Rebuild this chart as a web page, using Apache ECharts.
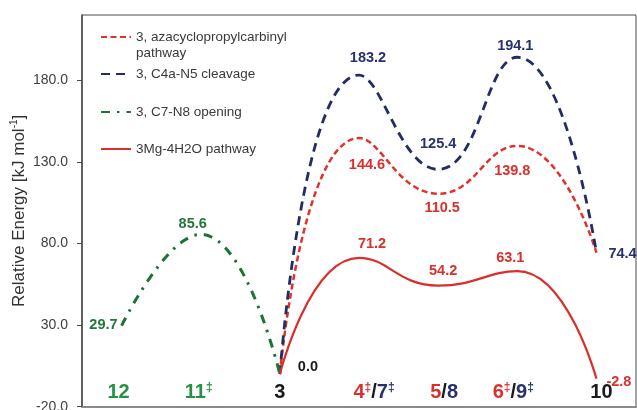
<!DOCTYPE html>
<html><head><meta charset="utf-8">
<script src="https://cdn.jsdelivr.net/npm/echarts@6/dist/echarts.min.js"></script>
<style>html,body{margin:0;padding:0;background:#fff}#c{width:637px;height:410px}</style>
</head><body><div id="c"></div>
<script>
// ---- data ----
const categories = ['12', '11‡', '3', '4‡/7‡', '5/8', '6‡/9‡', '10'];
const azacycloValues = [null, null, 0.0, 144.6, 110.5, 139.8, 74.4];
const c4aN5Values   = [null, null, 0.0, 183.2, 125.4, 194.1, 74.4];
const c7N8Values    = [29.7, 85.6, 0.0, null, null, null, null];
const mg4h2oValues  = [null, null, 0.0, 71.2, 54.2, 63.1, -2.8];
const seriesNames = ['3, azacyclopropylcarbinyl pathway', '3, C4a-N5 cleavage', '3, C7-N8 opening', '3Mg-4H2O pathway'];
const yTickLabels = [-20, 30, 80, 130, 180];

// ---- styling ----
const RED = '#d92e2a', NAVY = '#242d63', GREEN = '#1f7136', BLACK = '#1a1a1a';
const LBL_RED = '#d8302c', LBL_NAVY = '#28316b', LBL_GREEN = '#24753b';
const FONT = 'Arial, "Liberation Sans", sans-serif';

// [position, dx, dy, color?]
const labelLayout = {
  aza: {3: ['bottom', 8, 14], 4: ['bottom', 4, 2], 5: ['bottom', -5, 13]},
  c4a: {3: ['top', 9, -5], 4: ['top', 0, -13], 5: ['top', -2, 1], 6: ['right', 7, 1]},
  c7:  {0: ['left', 1, -1], 1: ['top', -8, 2]},
  mg:  {2: ['right', 13, -7, BLACK], 3: ['top', 13, -1], 4: ['top', 5, -2], 5: ['top', -7, -1], 6: ['right', 5, 3]}
};

function items(vals, layout, color) {
  return vals.map((v, i) => {
    if (v === null) return '-';
    const l = layout[i];
    if (!l) return {value: v, label: {show: false}};
    return {value: v, label: {show: true, position: l[0], offset: [l[1], l[2]], color: l[3] || color,
      fontSize: 14.5, fontWeight: 'bold', fontFamily: FONT,
      formatter: p => Number(p.value).toFixed(1)}};
  });
}

// category label rich strings
const catRich = {
  '12': '{g|12}{sp6|}',
  '11‡': '{g|11}{gs|‡}{sp4|}',
  '3': '{k|3}',
  '4‡/7‡': '{sp30|}{r|4}{rs|‡}{k|/}{n|7}{ns|‡}',
  '5/8': '{sp12|}{r|5}{k|/}{n|8}',
  '6‡/9‡': '{r|6}{rs|‡}{k|/}{n|9}{ns|‡}{sp8|}',
  '10': '{sp10|}{k|10}'
};
const mainTok = c => ({color: c, fontSize: 20, fontWeight: 'bold', fontFamily: FONT, lineHeight: 22});
const supTok = c => ({color: c, fontSize: 12, fontWeight: 'bold', fontFamily: FONT, lineHeight: 12, verticalAlign: 'top'});

const chart = echarts.init(document.getElementById('c'), null, {renderer: 'canvas'});

const legendTops = [13, 66, 104, 141];
const option = {
  animation: false,
  backgroundColor: '#fff',
  grid: {left: 82, right: 1, top: 15, bottom: 3.3, show: true, borderColor: '#4a4a4a', borderWidth: 1,
    outerBoundsMode: 'none', containLabel: false},
  legend: seriesNames.map((n, i) => ({
    data: [n], left: 100, top: legendTops[i], orient: 'vertical', padding: 0,
    itemWidth: 30, itemHeight: 14, selectedMode: false,
    itemStyle: {opacity: 0},
    formatter: i === 0 ? '\n3, azacyclopropylcarbinyl\npathway' : undefined,
    textStyle: {color: '#3a3a3a', fontSize: 13.5, fontFamily: FONT, lineHeight: 16}
  })),
  xAxis: {
    type: 'category', data: categories, boundaryGap: true,
    axisTick: {show: false},
    axisLine: {onZero: false, lineStyle: {color: '#8a8a8a', width: 2}},
    axisLabel: {
      inside: true, margin: 3, interval: 0,
      formatter: v => catRich[v],
      rich: {
        g: mainTok('#259244'), gs: supTok('#259244'),
        k: mainTok(BLACK),
        r: mainTok(LBL_RED), rs: supTok(LBL_RED),
        n: mainTok(LBL_NAVY), ns: supTok(LBL_NAVY),
        sp4: {width: 4}, sp6: {width: 6}, sp8: {width: 8}, sp10: {width: 10}, sp12: {width: 12}, sp30: {width: 30}
      }
    },
    splitLine: {show: false}
  },
  yAxis: {
    type: 'value', min: yTickLabels[0], max: 220, interval: 50,
    name: '{a|Relative Energy [kJ mol}{s|-1}{a|]}',
    nameLocation: 'middle', nameGap: 53, nameRotate: 90, nameMoveOverlap: false,
    nameTextStyle: {rich: {
      a: {fontSize: 17, fontFamily: FONT, color: '#333', lineHeight: 20},
      s: {fontSize: 10, fontFamily: FONT, color: '#333', lineHeight: 10, verticalAlign: 'top'}
    }},
    axisLine: {show: true, lineStyle: {color: '#4a4a4a', width: 1.5}},
    axisTick: {show: true, length: 5, lineStyle: {color: '#4a4a4a'}},
    axisLabel: {color: '#404040', fontSize: 14, fontFamily: FONT, margin: 14, showMaxLabel: false,
      formatter: v => Number(v).toFixed(1)},
    splitLine: {show: false}
  },
  series: [
    {name: seriesNames[0], type: 'line', smooth: true, symbol: 'circle', symbolSize: 0, showSymbol: true,
      data: items(azacycloValues, labelLayout.aza, LBL_RED),
      lineStyle: {color: '#e0322c', width: 2.5, type: [6, 3.5]}, itemStyle: {color: '#e0322c'}},
    {name: seriesNames[1], type: 'line', smooth: true, symbol: 'circle', symbolSize: 0, showSymbol: true,
      data: items(c4aN5Values, labelLayout.c4a, LBL_NAVY),
      lineStyle: {color: NAVY, width: 2.8, type: [9, 6]}, itemStyle: {color: NAVY}},
    {name: seriesNames[2], type: 'line', smooth: true, symbol: 'circle', symbolSize: 0, showSymbol: true,
      data: items(c7N8Values, labelLayout.c7, LBL_GREEN),
      lineStyle: {color: GREEN, width: 3, type: [9, 7, 2.5, 7]}, itemStyle: {color: GREEN}},
    {name: seriesNames[3], type: 'line', smooth: true, symbol: 'circle', symbolSize: 0, showSymbol: true,
      data: items(mg4h2oValues, labelLayout.mg, LBL_RED),
      lineStyle: {color: RED, width: 2.2, type: 'solid'}, itemStyle: {color: RED}}
  ]
};
chart.setOption(option);
</script>
</body></html>
